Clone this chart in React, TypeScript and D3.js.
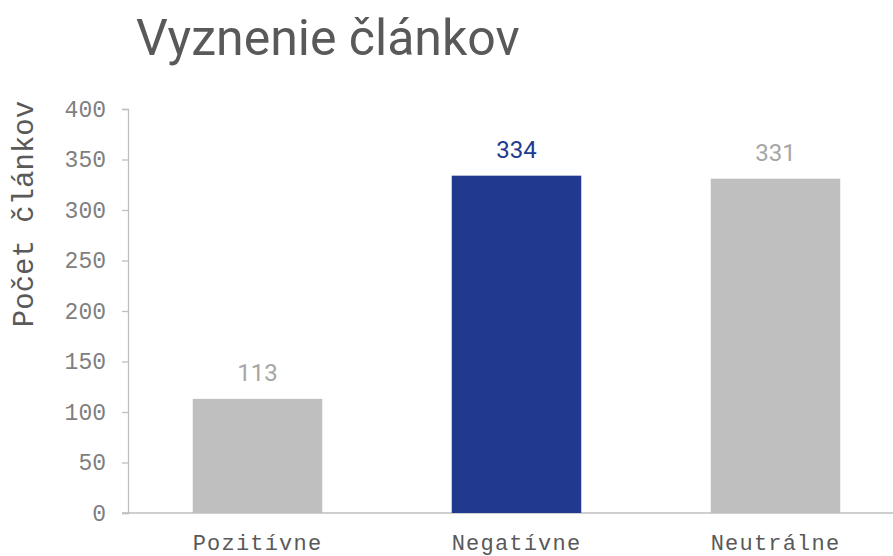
import { useRef, useEffect } from "react";
import * as d3 from "d3";

const categories = ["Pozitívne", "Negatívne", "Neutrálne"];
const values = [113, 334, 331];
const highlighted = ["Negatívne"];
const yTicks = [0, 50, 100, 150, 200, 250, 300, 350, 400];

export default function App() {
  const svgRef = useRef<SVGSVGElement>(null);

  useEffect(() => {
    const svg = d3.select(svgRef.current);
    svg.selectAll("*").remove();

    const width = 893;
    const height = 556;
    const margin = { top: 109, left: 128, bottom: 43 };

    const data = categories.map((c, i) => ({ cat: c, val: values[i] }));

    const x = d3
      .scaleBand()
      .domain(categories)
      .range([margin.left, margin.left + 777])
      .paddingInner(0.5)
      .paddingOuter(0.25);

    const y = d3
      .scaleLinear()
      .domain([0, 400])
      .range([height - margin.bottom, margin.top]);

    const mono = "'Liberation Mono', 'DejaVu Sans Mono', monospace";
    const sans = "Roboto, 'Liberation Sans', sans-serif";

    // Title
    svg
      .append("text")
      .attr("x", 136)
      .attr("y", 55)
      .attr("fill", "#595959")
      .attr("font-size", "50px")
      .style("font-family", sans)
      .text("Vyznenie článkov");

    // Y axis
    const yAxis = svg
      .append("g")
      .attr("transform", `translate(${margin.left},0)`)
      .call(d3.axisLeft(y).tickValues(yTicks).tickSize(6).tickPadding(16));
    yAxis.select(".domain").attr("stroke", "#bfbfbf").attr("stroke-width", 1.3);
    yAxis.selectAll(".tick line").attr("stroke", "#bfbfbf").attr("stroke-width", 1.3);
    yAxis
      .selectAll(".tick text")
      .attr("fill", "#7f7f7f")
      .attr("font-size", "23px")
      .style("font-family", mono);

    // Y axis title
    svg
      .append("text")
      .attr("transform", `translate(33,214) rotate(-90)`)
      .attr("text-anchor", "middle")
      .attr("fill", "#595959")
      .attr("font-size", "29px")
      .style("font-family", mono)
      .text("Počet článkov");

    // Baseline
    svg
      .append("line")
      .attr("x1", margin.left - 6)
      .attr("x2", width)
      .attr("y1", y(0))
      .attr("y2", y(0))
      .attr("stroke", "#bfbfbf")
      .attr("stroke-width", 1.3);

    // Bars
    svg
      .selectAll(".bar")
      .data(data)
      .enter()
      .append("rect")
      .attr("class", "bar")
      .attr("x", d => x(d.cat)!)
      .attr("width", x.bandwidth())
      .attr("y", d => y(d.val))
      .attr("height", d => y(0) - y(d.val))
      .attr("fill", d => (highlighted.includes(d.cat) ? "#213a8f" : "#bfbfbf"));

    // Value labels
    svg
      .selectAll(".val")
      .data(data)
      .enter()
      .append("text")
      .attr("class", "val")
      .attr("x", d => x(d.cat)! + x.bandwidth() / 2)
      .attr("y", d => y(d.val) - 18)
      .attr("text-anchor", "middle")
      .attr("fill", d => (highlighted.includes(d.cat) ? "#213a8f" : "#a6a6a6"))
      .attr("font-size", "24px")
      .style("font-family", sans)
      .text(d => d.val);

    // Category labels
    svg
      .selectAll(".cat")
      .data(data)
      .enter()
      .append("text")
      .attr("class", "cat")
      .attr("x", d => x(d.cat)! + x.bandwidth() / 2)
      .attr("y", 550)
      .attr("text-anchor", "middle")
      .attr("fill", "#595959")
      .attr("font-size", "22px")
      .attr("letter-spacing", "1.2px")
      .style("font-family", mono)
      .text(d => d.cat);
  }, []);

  return (
    <svg
      ref={svgRef}
      width={893}
      height={556}
      style={{ position: "absolute", left: 0, top: 0, display: "block" }}
    />
  );
}
